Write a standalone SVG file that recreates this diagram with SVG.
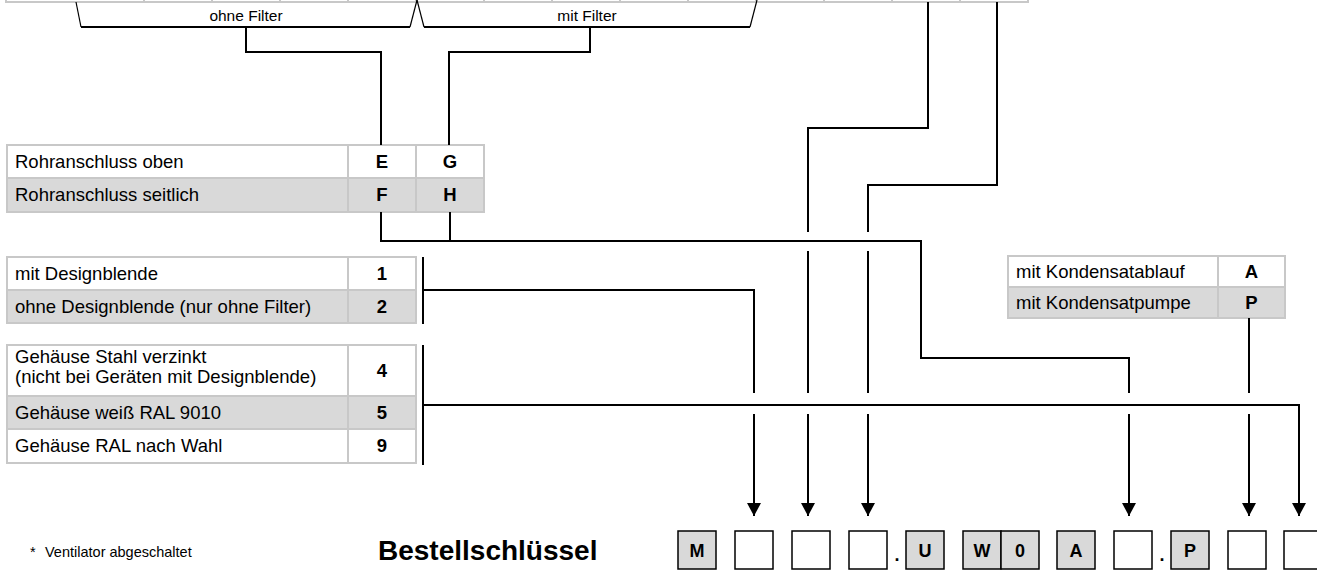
<svg xmlns="http://www.w3.org/2000/svg" width="1317" height="586" viewBox="0 0 1317 586">
<defs>
<style>
.c{fill:#fff;stroke:#c8c8c8;stroke-width:2}
.g{fill:#d9d9d9;stroke:#c8c8c8;stroke-width:2}
.t{font-family:"Liberation Sans",Arial,sans-serif;font-size:18.5px;fill:#000}
.v{font-family:"Liberation Sans",Arial,sans-serif;font-size:18.5px;font-weight:bold;text-anchor:middle;fill:#000}
.s{font-family:"Liberation Sans",Arial,sans-serif;font-size:15.5px;text-anchor:middle;fill:#000}
.ln{fill:none;stroke:#000;stroke-width:2}
.br{fill:none;stroke:#000;stroke-width:1.2}
.k{fill:#fff;stroke:#000;stroke-width:1.5}
.kg{fill:#d9d9d9;stroke:#000;stroke-width:1.5}
.kt{font-family:"Liberation Sans",Arial,sans-serif;font-size:18px;font-weight:bold;text-anchor:middle;fill:#000}
</style>
<marker id="ah" markerUnits="userSpaceOnUse" markerWidth="16" markerHeight="16" refX="13" refY="7" orient="auto">
<path d="M0,0 L13,7 L0,14 Z" fill="#000"/>
</marker>
</defs>
<rect width="1317" height="586" fill="#fff"/>

<g id="top-table">
<rect class="c" x="6" y="-40" width="138" height="42"/>
<rect class="c" x="144" y="-40" width="68" height="42"/>
<rect class="c" x="212" y="-40" width="68" height="42"/>
<rect class="c" x="280" y="-40" width="68" height="42"/>
<rect class="c" x="348" y="-40" width="68" height="42"/>
<rect class="c" x="416" y="-40" width="68" height="42"/>
<rect class="c" x="484" y="-40" width="68" height="42"/>
<rect class="c" x="552" y="-40" width="68" height="42"/>
<rect class="c" x="620" y="-40" width="68" height="42"/>
<rect class="c" x="688" y="-40" width="68" height="42"/>
<rect class="c" x="756" y="-40" width="68" height="42"/>
<rect class="c" x="824" y="-40" width="68" height="42"/>
<rect class="c" x="892" y="-40" width="68" height="42"/>
<rect class="c" x="960" y="-40" width="68" height="42"/>
</g>

<g id="brace-ohne-filter">
<polyline class="br" points="76,2 81,27"/>
<line class="ln" x1="81" y1="27" x2="410" y2="27"/>
<polyline class="br" points="410,27 417,0"/>
<text class="s" x="246" y="21">ohne Filter</text>
</g>
<g id="brace-mit-filter">
<polyline class="br" points="417,0 424,27"/>
<line class="ln" x1="424" y1="27" x2="750" y2="27"/>
<polyline class="br" points="750,27 757,0"/>
<text class="s" x="587" y="21">mit Filter</text>
</g>

<g id="table-rohranschluss">
<rect class="c" x="7" y="145" width="341" height="33"/>
<rect class="c" x="348" y="145" width="68" height="33"/>
<rect class="c" x="416" y="145" width="68" height="33"/>
<rect class="g" x="7" y="178" width="341" height="34"/>
<rect class="g" x="348" y="178" width="68" height="34"/>
<rect class="g" x="416" y="178" width="68" height="34"/>
<text class="t" x="15" y="168">Rohranschluss oben</text>
<text class="t" x="15" y="201">Rohranschluss seitlich</text>
<text class="v" x="382" y="168">E</text>
<text class="v" x="450" y="168">G</text>
<text class="v" x="382" y="201">F</text>
<text class="v" x="450" y="201">H</text>
</g>

<g id="table-designblende">
<rect class="c" x="7" y="257" width="341" height="33"/>
<rect class="c" x="348" y="257" width="68" height="33"/>
<rect class="g" x="7" y="290" width="341" height="33"/>
<rect class="g" x="348" y="290" width="68" height="33"/>
<text class="t" x="15" y="280">mit Designblende</text>
<text class="t" x="15" y="313">ohne Designblende (nur ohne Filter)</text>
<text class="v" x="382" y="280">1</text>
<text class="v" x="382" y="313">2</text>
</g>

<g id="table-gehaeuse">
<rect class="c" x="7" y="345" width="341" height="51"/>
<rect class="c" x="348" y="345" width="68" height="51"/>
<rect class="g" x="7" y="396" width="341" height="33"/>
<rect class="g" x="348" y="396" width="68" height="33"/>
<rect class="c" x="7" y="429" width="341" height="34"/>
<rect class="c" x="348" y="429" width="68" height="34"/>
<text class="t" x="15" y="363">Gehäuse Stahl verzinkt</text>
<text class="t" x="15" y="383">(nicht bei Geräten mit Designblende)</text>
<text class="v" x="382" y="377">4</text>
<text class="t" x="15" y="419">Gehäuse weiß RAL 9010</text>
<text class="v" x="382" y="419">5</text>
<text class="t" x="15" y="452">Gehäuse RAL nach Wahl</text>
<text class="v" x="382" y="452">9</text>
</g>

<g id="table-kondensat">
<rect class="c" x="1008" y="256" width="210" height="31"/>
<rect class="c" x="1218" y="256" width="67" height="31"/>
<rect class="g" x="1008" y="287" width="210" height="31"/>
<rect class="g" x="1218" y="287" width="67" height="31"/>
<text class="t" x="1016" y="278">mit Kondensatablauf</text>
<text class="t" x="1016" y="309">mit Kondensatpumpe</text>
<text class="v" x="1251.5" y="278">A</text>
<text class="v" x="1251.5" y="309">P</text>
</g>

<g id="connectors">
<path class="ln" d="M246,27 V52 H381 V145"/>
<path class="ln" d="M590,27 V52 H449 V145"/>
<path class="ln" d="M381,212 V241 H921 V358 H1129 V393"/>
<path class="ln" d="M450,212 V241"/>
<path class="ln" d="M1129,414 V516" marker-end="url(#ah)"/>
<path class="ln" d="M928,2 V128 H808 V232"/>
<path class="ln" d="M808,251 V393"/>
<path class="ln" d="M808,414 V516" marker-end="url(#ah)"/>
<path class="ln" d="M997,2 V185 H868 V232"/>
<path class="ln" d="M868,251 V393"/>
<path class="ln" d="M868,414 V516" marker-end="url(#ah)"/>
<path class="ln" d="M423,257 V324"/>
<path class="ln" d="M423,290 H754 V393"/>
<path class="ln" d="M754,414 V516" marker-end="url(#ah)"/>
<path class="ln" d="M423,345 V465"/>
<path class="ln" d="M423,405 H1299 V516" marker-end="url(#ah)"/>
<path class="ln" d="M1249,318 V393"/>
<path class="ln" d="M1249,414 V516" marker-end="url(#ah)"/>
</g>

<g id="footnote">
<text font-family="Liberation Sans, Arial, sans-serif" font-size="14.5" x="30" y="557">*</text>
<text font-family="Liberation Sans, Arial, sans-serif" font-size="14.5" x="45" y="557">Ventilator abgeschaltet</text>
</g>

<g id="bestellschluessel">
<text font-family="Liberation Sans, Arial, sans-serif" font-size="28" font-weight="bold" x="378" y="560">Bestellschlüssel</text>
<rect class="kg" x="678" y="531" width="38" height="38"/><text class="kt" x="697" y="556.5">M</text>
<rect class="k" x="735" y="531" width="38" height="38"/>
<rect class="k" x="792" y="531" width="38" height="38"/>
<rect class="k" x="849" y="531" width="38" height="38"/>
<text class="kt" x="897" y="561">.</text>
<rect class="kg" x="906" y="531" width="38" height="38"/><text class="kt" x="925" y="556.5">U</text>
<rect class="kg" x="963" y="531" width="38" height="38"/><text class="kt" x="982" y="556.5">W</text>
<rect class="kg" x="1001" y="531" width="38" height="38"/><text class="kt" x="1020" y="556.5">0</text>
<rect class="kg" x="1057" y="531" width="38" height="38"/><text class="kt" x="1076" y="556.5">A</text>
<rect class="k" x="1114" y="531" width="38" height="38"/>
<text class="kt" x="1162" y="561">.</text>
<rect class="kg" x="1171" y="531" width="38" height="38"/><text class="kt" x="1190" y="556.5">P</text>
<rect class="k" x="1228" y="531" width="38" height="38"/>
<rect class="k" x="1284" y="531" width="38" height="38"/>
</g>
</svg>
